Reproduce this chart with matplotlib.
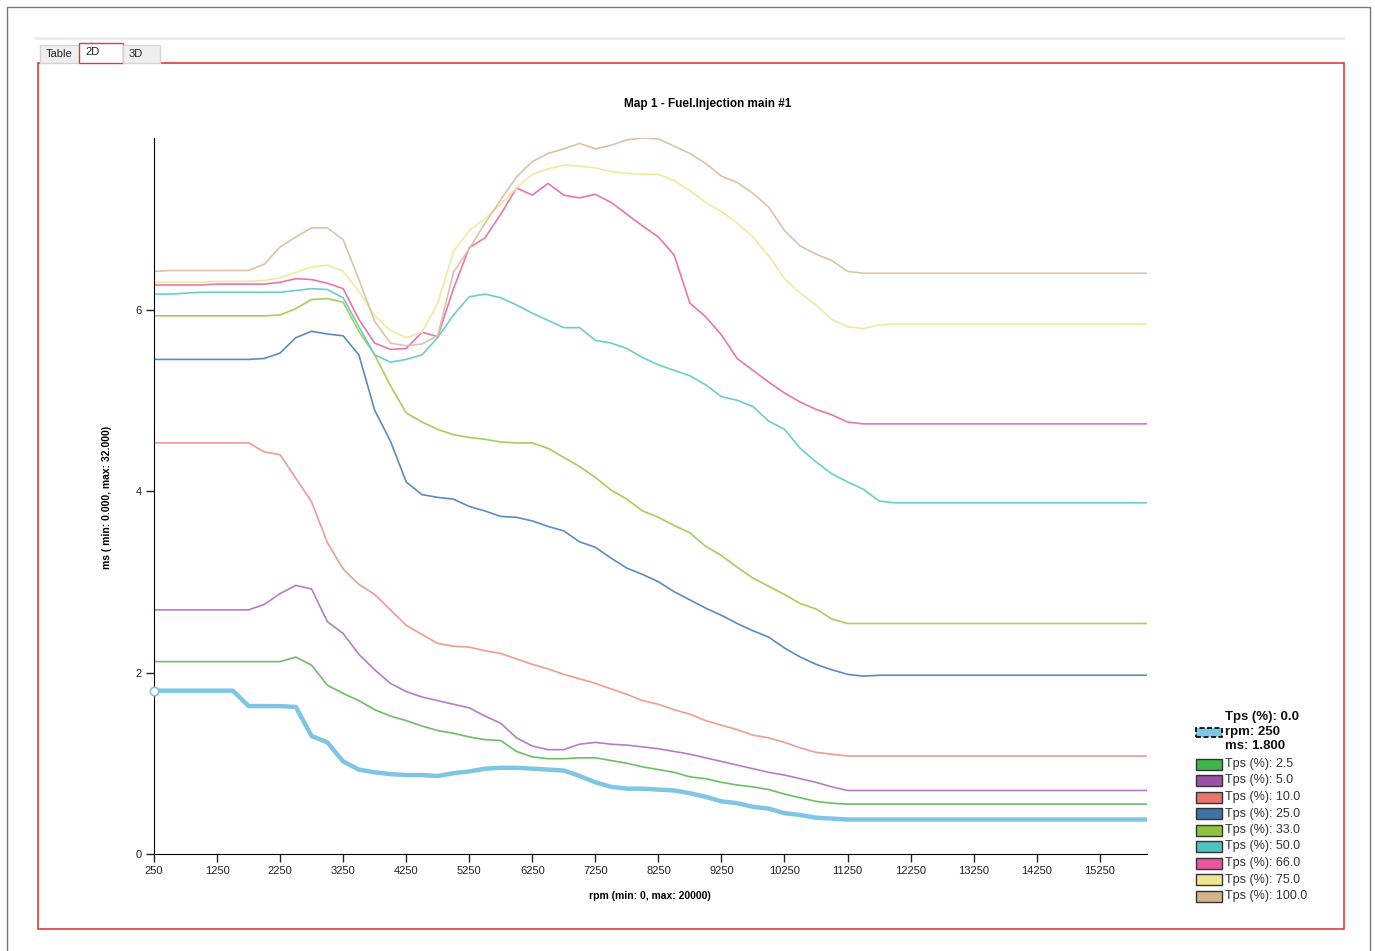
import matplotlib.pyplot as plt
from matplotlib.patches import Rectangle
from matplotlib.lines import Line2D

plt.rcParams['font.family'] = ['Liberation Sans', 'DejaVu Sans']

W, H = 1375, 951

# rpm breakpoints (250 step up to 12000, then the last column)
rpm = list(range(250, 12250, 250)) + [16000]

tps_labels = ['0.0', '2.5', '5.0', '10.0', '25.0', '33.0', '50.0', '66.0', '75.0', '100.0']

tps0 = [1.80, 1.80, 1.80, 1.80, 1.80, 1.80,
        1.63, 1.63, 1.63, 1.62,
        1.30, 1.23, 1.02, 0.93, 0.90, 0.88, 0.87, 0.87, 0.86, 0.89,
        0.91, 0.94, 0.95, 0.95, 0.94, 0.93, 0.92, 0.86, 0.79, 0.74,
        0.72, 0.72, 0.71, 0.70, 0.67, 0.63, 0.58, 0.56, 0.52, 0.50,
        0.45, 0.43, 0.40, 0.39, 0.38, 0.38, 0.38, 0.38,
        0.38]
tps2_5 = [2.12, 2.12, 2.12, 2.12, 2.12, 2.12, 2.12, 2.12, 2.12, 2.17,
          2.08, 1.86, 1.77, 1.69, 1.59, 1.52, 1.47, 1.41, 1.36, 1.33,
          1.29, 1.26, 1.25, 1.13, 1.07, 1.05, 1.05, 1.06, 1.06, 1.03,
          1.00, 0.96, 0.93, 0.90, 0.85, 0.83, 0.79, 0.76, 0.74, 0.71,
          0.66, 0.62, 0.58, 0.56, 0.55, 0.55, 0.55, 0.55,
          0.55]
tps5 = [2.69, 2.69, 2.69, 2.69, 2.69, 2.69, 2.69, 2.75, 2.87, 2.96,
        2.92, 2.56, 2.43, 2.20, 2.03, 1.88, 1.79, 1.73, 1.69, 1.65,
        1.61, 1.52, 1.44, 1.28, 1.19, 1.15, 1.15, 1.21, 1.23, 1.21,
        1.20, 1.18, 1.16, 1.13, 1.10, 1.06, 1.02, 0.98, 0.94, 0.90,
        0.87, 0.83, 0.79, 0.74, 0.70, 0.70, 0.70, 0.70,
        0.70]
tps10 = [4.53, 4.53, 4.53, 4.53, 4.53, 4.53, 4.53, 4.43, 4.40, 4.14,
         3.88, 3.43, 3.14, 2.97, 2.86, 2.69, 2.52, 2.42, 2.32, 2.29,
         2.28, 2.24, 2.21, 2.15, 2.09, 2.04, 1.98, 1.93, 1.88, 1.82,
         1.76, 1.69, 1.65, 1.59, 1.54, 1.47, 1.42, 1.37, 1.31, 1.28,
         1.23, 1.17, 1.12, 1.10, 1.08, 1.08, 1.08, 1.08,
         1.08]
tps25 = [5.45, 5.45, 5.45, 5.45, 5.45, 5.45, 5.45, 5.46, 5.52, 5.69,
         5.76, 5.73, 5.71, 5.50, 4.89, 4.55, 4.10, 3.96, 3.93, 3.91,
         3.83, 3.78, 3.72, 3.71, 3.67, 3.61, 3.56, 3.44, 3.38, 3.26,
         3.15, 3.08, 3.00, 2.89, 2.80, 2.71, 2.63, 2.54, 2.46, 2.39,
         2.27, 2.17, 2.09, 2.03, 1.98, 1.96, 1.97, 1.97,
         1.97]
tps33 = [5.93, 5.93, 5.93, 5.93, 5.93, 5.93, 5.93, 5.93, 5.94, 6.01,
         6.11, 6.12, 6.08, 5.76, 5.50, 5.16, 4.86, 4.76, 4.68, 4.62,
         4.59, 4.57, 4.54, 4.53, 4.53, 4.47, 4.37, 4.27, 4.15, 4.01,
         3.91, 3.78, 3.71, 3.62, 3.54, 3.39, 3.29, 3.16, 3.04, 2.95,
         2.86, 2.76, 2.70, 2.59, 2.54, 2.54, 2.54, 2.54,
         2.54]
tps50 = [6.17, 6.17, 6.18, 6.19, 6.19, 6.19, 6.19, 6.19, 6.19, 6.21,
         6.23, 6.22, 6.13, 5.81, 5.50, 5.42, 5.45, 5.50, 5.69, 5.94,
         6.14, 6.17, 6.13, 6.05, 5.96, 5.88, 5.80, 5.80, 5.66, 5.63,
         5.57, 5.47, 5.39, 5.33, 5.27, 5.17, 5.04, 5.00, 4.93, 4.77,
         4.68, 4.47, 4.32, 4.19, 4.10, 4.02, 3.89, 3.87,
         3.87]
tps66 = [6.27, 6.27, 6.27, 6.27, 6.28, 6.28, 6.28, 6.28, 6.30, 6.34,
         6.33, 6.29, 6.23, 5.89, 5.63, 5.56, 5.57, 5.75, 5.70, 6.23,
         6.68, 6.79, 7.05, 7.34, 7.26, 7.39, 7.26, 7.23, 7.27, 7.18,
         7.05, 6.92, 6.80, 6.60, 6.07, 5.92, 5.72, 5.46, 5.33, 5.20,
         5.08, 4.98, 4.90, 4.84, 4.76, 4.74, 4.74, 4.74,
         4.74]
tps75 = [6.30, 6.30, 6.30, 6.30, 6.31, 6.31, 6.31, 6.32, 6.35, 6.41,
         6.47, 6.49, 6.42, 6.20, 5.93, 5.77, 5.69, 5.75, 6.07, 6.64,
         6.87, 7.00, 7.16, 7.34, 7.49, 7.55, 7.59, 7.58, 7.56, 7.52,
         7.50, 7.49, 7.49, 7.42, 7.31, 7.18, 7.08, 6.95, 6.80, 6.59,
         6.34, 6.18, 6.05, 5.89, 5.81, 5.79, 5.83, 5.84,
         5.84]
tps100 = [6.42, 6.43, 6.43, 6.43, 6.43, 6.43, 6.43, 6.50, 6.69, 6.80,
          6.90, 6.90, 6.77, 6.33, 5.87, 5.63, 5.60, 5.62, 5.71, 6.41,
          6.67, 6.95, 7.21, 7.46, 7.63, 7.72, 7.77, 7.83, 7.77, 7.81,
          7.87, 7.89, 7.88, 7.80, 7.72, 7.61, 7.47, 7.40, 7.28, 7.13,
          6.87, 6.70, 6.61, 6.54, 6.42, 6.40, 6.40, 6.40,
          6.40]

series = [tps0, tps2_5, tps5, tps10, tps25, tps33, tps50, tps66, tps75, tps100]
line_colors = ['#7EC6E4', '#6DBE66', '#B77CC6', '#EE9C94', '#5B8CBE',
               '#A6CE5A', '#6ACFCB', '#EA75AE', '#EFE9A0', '#DCC3A3']
patch_colors = ['#7EC6E4', '#3DB54A', '#9B4FA6', '#E8746E', '#3E72A8',
                '#8DC43C', '#4FC2BD', '#E8579E', '#EEE690', '#D2B48C']

xticks = list(range(250, 16000, 1000))
yticks = [0, 2, 4, 6]


def fx(px):
    return px / W


def fy(py):
    return 1 - py / H


fig = plt.figure(figsize=(W / 100, H / 100), dpi=100)

# window chrome: outer border, separator, tabs, red frame
fig.patches.append(Rectangle((fx(7), fy(980)), fx(1370) - fx(7), fy(7) - fy(980),
                             transform=fig.transFigure, fill=False, edgecolor='#777777', lw=1))
fig.add_artist(Line2D([fx(35), fx(1343)], [fy(38), fy(38)], transform=fig.transFigure,
                      color='#EDEDED', lw=2))
fig.patches.append(Rectangle((fx(38), fy(929)), fx(1344) - fx(38), fy(63) - fy(929),
                             transform=fig.transFigure, fill=False, edgecolor='#E03A3A', lw=1.2))
tabs = [('Table', 40, 79, 45, False), ('2D', 79, 123, 43, True), ('3D', 123, 160, 45, False)]
for name, x0, x1, y0, active in tabs:
    fig.patches.append(Rectangle((fx(x0), fy(63)), fx(x1) - fx(x0), fy(y0) - fy(63),
                                 transform=fig.transFigure,
                                 facecolor='white' if active else '#EFEFEF',
                                 edgecolor='#E03A3A' if active else '#D4D4D4', lw=1, zorder=3))
    fig.text(fx(x0 + 6), fy(54 if not active else 52), name, fontsize=8, color='#222222',
             va='center', ha='left', zorder=4)

ax = fig.add_axes([fx(154), fy(854), fx(1147) - fx(154), fy(138) - fy(854)])

for i, vals in enumerate(series):
    if i == 0:
        continue
    ax.plot(rpm, vals, color=line_colors[i], lw=1.2, solid_joinstyle='round')
ax.plot(rpm, tps0, color=line_colors[0], lw=3.2, solid_joinstyle='round', zorder=5)
ax.plot(rpm[0], tps0[0], 'o', ms=6, mfc='white', mec=line_colors[0], mew=1.2,
        clip_on=False, zorder=6)

ax.set_xlim(250, 16000)
ax.set_ylim(0, max(tps100))
ax.set_xticks(xticks)
ax.set_yticks(yticks)
ax.spines['top'].set_visible(False)
ax.spines['right'].set_visible(False)
ax.tick_params(length=6, width=1, labelsize=8, colors='#222222', pad=3)

fig.text(fx(708), fy(104), 'Map 1 - Fuel.Injection main #1', fontsize=8.5,
         fontweight='bold', ha='center', va='center')
fig.text(fx(650), fy(896), 'rpm (min: 0, max: 20000)', fontsize=7.5,
         fontweight='bold', ha='center', va='center')
fig.text(fx(107), fy(497), 'ms ( min: 0.000, max: 32.000)', fontsize=7.5,
         fontweight='bold', ha='center', va='center', rotation=90)

# legend drawn by hand
fig.patches.append(Rectangle((fx(1196), fy(737)), fx(26), fy(0) - fy(9),
                             transform=fig.transFigure, facecolor=patch_colors[0],
                             edgecolor='black', lw=1.2, linestyle=(0, (3, 1.5))))
header = ['Tps (%): ' + tps_labels[0], 'rpm: ' + str(rpm[0]), 'ms: %.3f' % tps0[0]]
for k, txt in enumerate(header):
    fig.text(fx(1225), fy(717 + 14.5 * k), txt, fontsize=9.5, fontweight='bold',
             ha='left', va='center', color='#111111')
for k in range(1, len(series)):
    yc = 764 + 16.5 * (k - 1)
    fig.patches.append(Rectangle((fx(1196), fy(yc + 5.5)), fx(26), fy(0) - fy(11),
                                 transform=fig.transFigure, facecolor=patch_colors[k],
                                 edgecolor='#333333', lw=1))
    fig.text(fx(1225), fy(yc), 'Tps (%): ' + tps_labels[k], fontsize=9,
             ha='left', va='center', color='#333333')

fig.savefig('out.png', dpi=100)
